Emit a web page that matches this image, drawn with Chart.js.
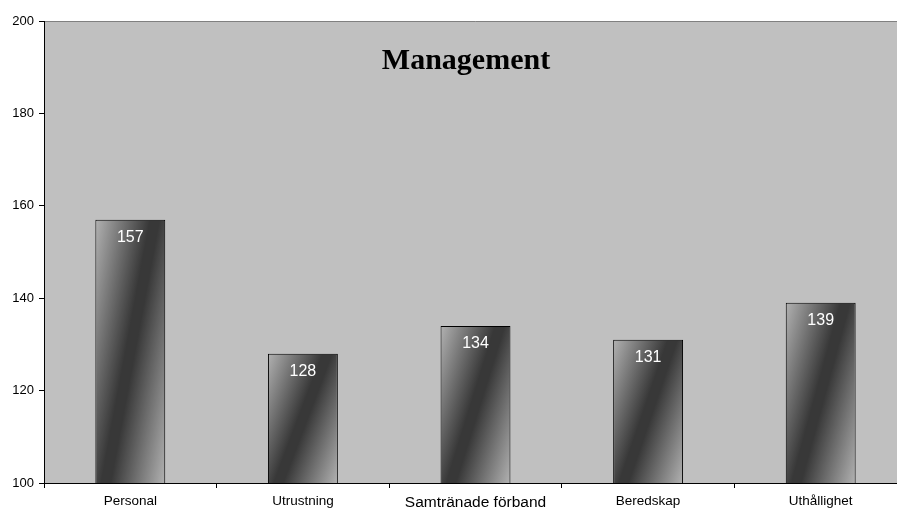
<!DOCTYPE html>
<html>
<head>
<meta charset="utf-8">
<script src="https://cdn.jsdelivr.net/npm/chart.js@4.4.0/dist/chart.umd.min.js"></script>
<style>
  html, body { margin:0; padding:0; background:#fff; overflow:hidden; }
  #wrap { width:897px; height:509px; overflow:hidden; }
</style>
</head>
<body>
<div id="wrap"><canvas id="chart" width="907" height="509"></canvas></div>
<script>
// chart data
const categories = ["Personal", "Utrustning", "Samtränade förband", "Beredskap", "Uthållighet"];
const scores = [157, 128, 134, 131, 139];
const yTicks = [100, 120, 140, 160, 180, 200];
const chartTitle = "Management";
const barShare = 0.405;

// gray plot area with a thin top border
const plotBackground = {
  id: 'plotBackground',
  beforeDraw(chart){
    const { ctx, chartArea: a } = chart;
    ctx.save();
    ctx.fillStyle = '#c0c0c0';
    ctx.fillRect(a.left, a.top, a.right - a.left, a.bottom - a.top);
    ctx.strokeStyle = '#808080';
    ctx.lineWidth = 1;
    ctx.beginPath();
    ctx.moveTo(a.left, a.top + 0.5);
    ctx.lineTo(a.right, a.top + 0.5);
    ctx.stroke();
    ctx.restore();
  }
};

// diagonal light-dark-light fill, dark band runs bottom-left -> top-right
function barFill(c){
  const chart = c.chart;
  const xs = chart.scales.x, ys = chart.scales.y;
  if (!chart.chartArea || !xs || !ys) return '#666';
  const cx = xs.getPixelForValue(c.dataIndex);
  const w = (xs.width / categories.length) * barShare;
  const top = ys.getPixelForValue(scores[c.dataIndex]);
  const base = ys.getPixelForValue(ys.min);
  const h = base - top;
  const cy = (top + base) / 2;
  // band a little steeper than the box diagonal
  const dx = h, dy = w * 0.7;
  const len = Math.sqrt(dx * dx + dy * dy);
  const ux = dx / len, uy = dy / len;
  const reach = (w / 2) * ux + (h / 2) * uy;
  const g = chart.ctx.createLinearGradient(cx - ux * reach, cy - uy * reach, cx + ux * reach, cy + uy * reach);
  g.addColorStop(0, '#b2b2b2');
  g.addColorStop(0.46, '#383838');
  g.addColorStop(0.54, '#383838');
  g.addColorStop(1, '#b2b2b2');
  return g;
}

// value labels inside bar tops + title
const valueLabels = {
  id: 'valueLabels',
  afterDatasetsDraw(chart){
    const ctx = chart.ctx;
    ctx.save();
    ctx.fillStyle = '#fff';
    ctx.font = '16px Arial, "Liberation Sans", sans-serif';
    ctx.textAlign = 'center';
    ctx.textBaseline = 'middle';
    chart.getDatasetMeta(0).data.forEach((el, i) => {
      ctx.fillText(scores[i], el.x, el.y + 18);
    });
    ctx.fillStyle = '#000';
    ctx.font = 'bold 30px "Times New Roman", "Liberation Serif", serif';
    ctx.textBaseline = 'alphabetic';
    ctx.fillText(chartTitle, 466, 69);
    ctx.restore();
  }
};

function init(){
  const ctx = document.getElementById('chart').getContext('2d');
  new Chart(ctx, {
    type: 'bar',
    data: {
      labels: categories,
      datasets: [{
        data: scores,
        backgroundColor: barFill,
        borderColor: '#000',
        borderWidth: 1,
        borderSkipped: false,
        barPercentage: barShare,
        categoryPercentage: 1
      }]
    },
    options: {
      responsive: false,
      animation: false,
      layout: { padding: { top: 21, right: 0, left: 0, bottom: 0 } },
      plugins: { legend: { display: false }, tooltip: { enabled: false } },
      scales: {
        x: {
          offset: true,
          border: { color: '#000', width: 1 },
          grid: { offset: true, drawOnChartArea: false, drawTicks: true, tickLength: 5, color: '#000' },
          ticks: {
            color: '#000',
            padding: 5,
            maxRotation: 0,
            autoSkip: false,
            font: c => ({ family: 'Arial, "Liberation Sans", sans-serif', size: c.index === 2 ? 15.5 : 13.5 })
          },
          afterFit(scale){ scale.height = 26; }
        },
        y: {
          min: 100,
          max: 200,
          border: { color: '#000', width: 1 },
          grid: { drawOnChartArea: false, drawTicks: true, tickLength: 5, color: '#000' },
          afterBuildTicks(scale){ scale.ticks = yTicks.map(v => ({ value: v })); },
          ticks: {
            color: '#000',
            padding: 5,
            font: { family: 'Arial, "Liberation Sans", sans-serif', size: 13 }
          },
          afterFit(scale){ scale.width = 44; }
        }
      }
    },
    plugins: [plotBackground, valueLabels]
  });
}

document.addEventListener('DOMContentLoaded', init);
</script>
</body>
</html>
